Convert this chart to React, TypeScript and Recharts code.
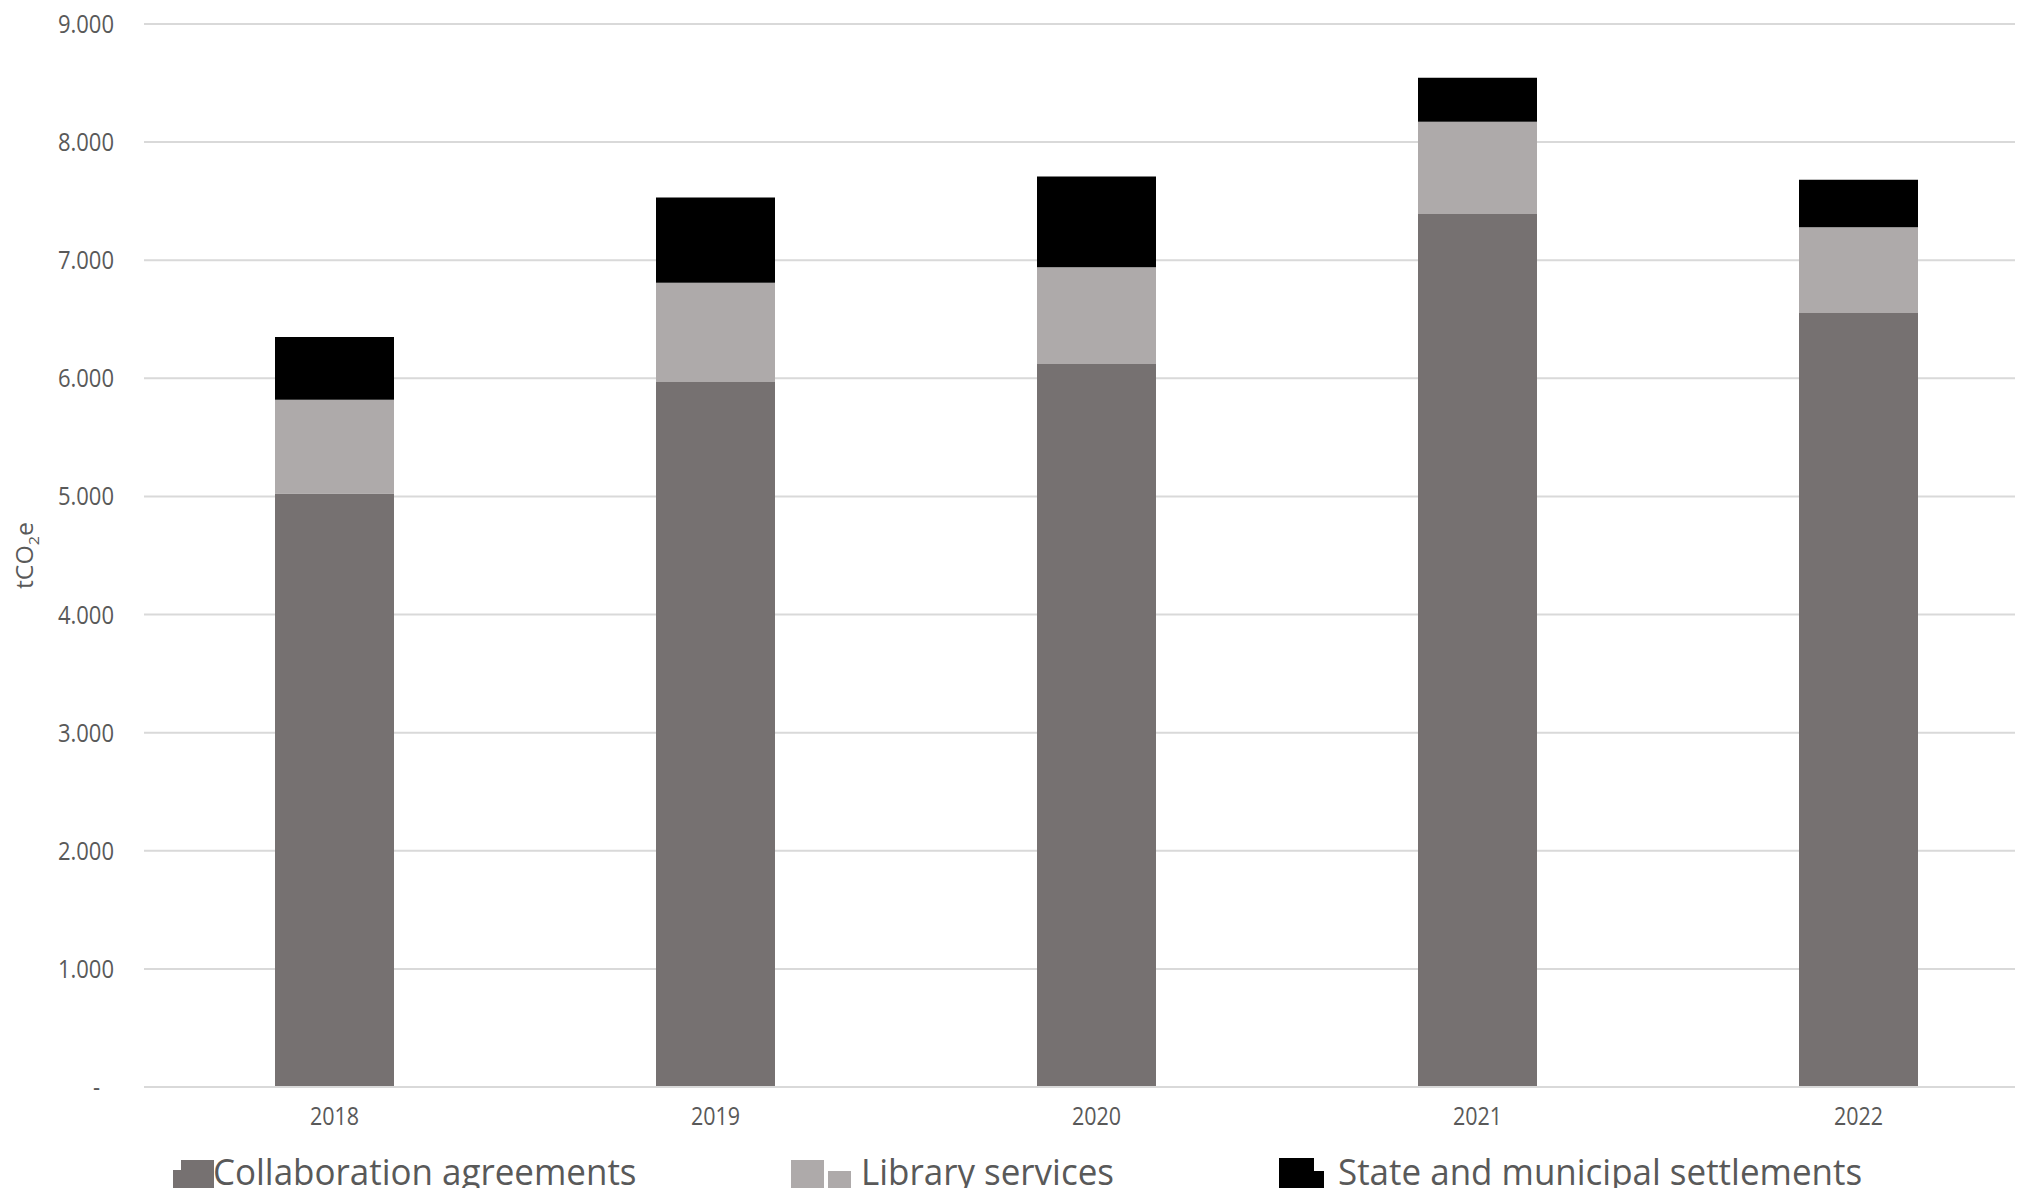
import React from 'react';
import { BarChart, Bar, XAxis, YAxis, CartesianGrid, Legend } from 'recharts';

// tCO2e per year, stacked by source
const years = ['2018', '2019', '2020', '2021', '2022'];
const collaboration = [5025, 5969, 6122, 7391, 6554];
const library = [794, 840, 819, 782, 726];
const settlements = [532, 721, 768, 372, 401];
const yTicks = [0, 1000, 2000, 3000, 4000, 5000, 6000, 7000, 8000, 9000];

const SERIES = [
  { key: 'collaboration', name: 'Collaboration agreements', color: '#767171' },
  { key: 'library', name: 'Library services', color: '#AEAAAA' },
  { key: 'settlements', name: 'State and municipal settlements', color: '#000000' },
];

const data = years.map((year, i) => ({
  year,
  collaboration: collaboration[i],
  library: library[i],
  settlements: settlements[i],
}));

const CHART_W = 2049;
const CHART_H = 1196;
const TEXT = '#595959';
const FONT = '"Open Sans", "Noto Sans", sans-serif';

const fmt = (v: number) => (v === 0 ? '-' : String(v).replace(/\B(?=(\d{3})+(?!\d))/g, '.'));

const YTick = (props: any) => {
  const { x, y, payload } = props;
  const shift = payload.value === 0 ? -14 : 0;
  return (
    <g transform={`translate(${x + shift},${y}) scale(0.88,1)`}>
      <text x={0} y={0} dy="0.36em" textAnchor="end" fill={TEXT} fontSize={25} fontFamily={FONT}>
        {fmt(payload.value)}
      </text>
    </g>
  );
};

const XTick = (props: any) => {
  const { x, y, payload } = props;
  return (
    <g transform={`translate(${x},${y + 38}) scale(0.86,1)`}>
      <text x={0} y={0} textAnchor="middle" fill={TEXT} fontSize={25} fontFamily={FONT}>
        {payload.value}
      </text>
    </g>
  );
};

const YLabel = (props: any) => {
  const vb = props.viewBox || { x: 0, y: 24, width: 144, height: 1063 };
  const cy = vb.y + vb.height / 2;
  return (
    <g transform={`translate(33,${cy}) rotate(-90) scale(1.08,1)`}>
      <text x={0} y={0} textAnchor="middle" fill={TEXT} fontSize={23} fontFamily={FONT}>
        tCO<tspan fontSize={15} dy={6}>2</tspan>
        <tspan dy={-6}>e</tspan>
      </text>
    </g>
  );
};

// legend swatches: big square plus the small offset square next to it
const legendItems = [
  { x: 181, size: 33, small: { dx: -8, w: 17, top: 33 }, textX: 213 },
  { x: 791, size: 33, small: { dx: 37, w: 23, top: 34 }, textX: 861 },
  { x: 1279, size: 35, small: { dx: 35, w: 10, top: 34 }, textX: 1338 },
];

const renderLegend = () => (
  <svg width={CHART_W} height={59} style={{ display: 'block', overflow: 'visible' }}>
    {SERIES.map((s, i) => {
      const it = legendItems[i];
      return (
        <g key={s.key}>
          <rect x={it.x + it.small.dx} y={it.small.top} width={it.small.w} height={56 - it.small.top} fill={s.color} />
          <rect x={it.x} y={56 - it.size} width={it.size} height={it.size} fill={s.color} />
          <g transform={`translate(${it.textX},47.5) scale(0.945,1)`}>
            <text x={0} y={0} fill={TEXT} fontSize={37} fontFamily={FONT}>
              {s.name}
            </text>
          </g>
        </g>
      );
    })}
  </svg>
);

export default function App() {
  return (
    <div style={{ margin: -8, width: 2023, height: 1196, overflow: 'hidden', background: '#fff' }}>
      <BarChart
        width={CHART_W}
        height={CHART_H}
        data={data}
        margin={{ top: 24, right: 0, bottom: 0, left: 0 }}
        barSize={119}
      >
        <CartesianGrid horizontal vertical={false} stroke="#D9D9D9" strokeWidth={2} />
        <XAxis
          dataKey="year"
          height={50}
          tickSize={0}
          tickMargin={0}
          axisLine={{ stroke: '#D9D9D9', strokeWidth: 2 }}
          tickLine={false}
          tick={<XTick />}
          interval={0}
        />
        <YAxis
          width={144}
          domain={[0, 9000]}
          ticks={yTicks}
          tickSize={0}
          tickMargin={30}
          axisLine={false}
          tickLine={false}
          tick={<YTick />}
          interval={0}
          label={{ content: <YLabel /> }}
        />
        <Legend
          verticalAlign="bottom"
          content={renderLegend}
          wrapperStyle={{ left: 0, bottom: 0, width: CHART_W, height: 59 }}
        />
        {SERIES.map((s) => (
          <Bar key={s.key} dataKey={s.key} name={s.name} stackId="a" fill={s.color} isAnimationActive={false} />
        ))}
      </BarChart>
    </div>
  );
}
